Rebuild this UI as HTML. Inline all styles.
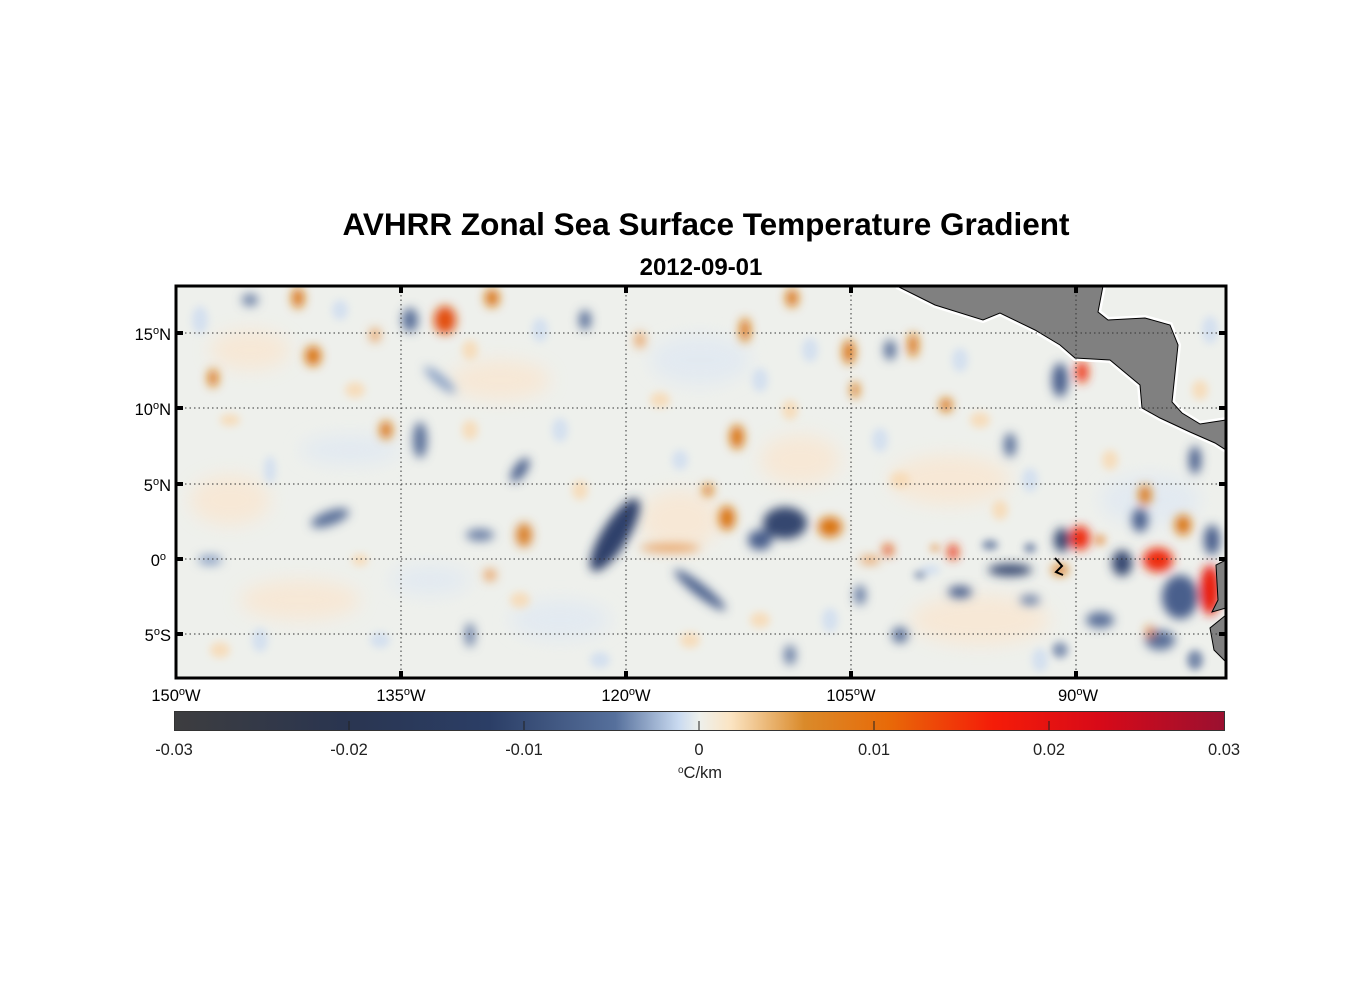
<!DOCTYPE html>
<html><head><meta charset="utf-8"><style>
body{margin:0;background:#fff;}
svg text{font-family:"Liberation Sans",sans-serif;}
</style></head><body>
<svg width="1356" height="1000" viewBox="0 0 1356 1000" xmlns="http://www.w3.org/2000/svg">
<defs>
<clipPath id="c"><rect x="176" y="286" width="1050" height="392"/></clipPath>
<filter id="b" x="-50%" y="-50%" width="200%" height="200%"><feGaussianBlur stdDeviation="5"/></filter>
<filter id="b1" x="-50%" y="-50%" width="200%" height="200%"><feGaussianBlur stdDeviation="4"/></filter>
<filter id="b2" x="-50%" y="-50%" width="200%" height="200%"><feGaussianBlur stdDeviation="9"/></filter>
<linearGradient id="cb" x1="0" x2="1">
<stop offset="0" stop-color="#3d3d3f"/>
<stop offset="0.16" stop-color="#2a3550"/>
<stop offset="0.3" stop-color="#2b3e66"/>
<stop offset="0.42" stop-color="#56709c"/>
<stop offset="0.48" stop-color="#c9daf0"/>
<stop offset="0.5" stop-color="#eef0ec"/>
<stop offset="0.53" stop-color="#fbe4c2"/>
<stop offset="0.6" stop-color="#da8a2a"/>
<stop offset="0.68" stop-color="#e86a08"/>
<stop offset="0.78" stop-color="#f51c08"/>
<stop offset="0.88" stop-color="#d80a18"/>
<stop offset="1" stop-color="#9a1030"/>
</linearGradient>
</defs>
<text x="706" y="235" font-size="31.5" font-weight="bold" text-anchor="middle">AVHRR Zonal Sea Surface Temperature Gradient</text>
<text x="701" y="275" font-size="24" font-weight="bold" text-anchor="middle">2012-09-01</text>
<g clip-path="url(#c)">
<rect x="176" y="286" width="1050" height="392" fill="#eef0ec"/>
<g filter="url(#b2)" opacity="0.6">
<ellipse cx="250" cy="350" rx="40" ry="20" fill="#fde3c8"/>
<ellipse cx="350" cy="450" rx="50" ry="15" fill="#dbe6f4"/>
<ellipse cx="300" cy="600" rx="60" ry="20" fill="#fde3c8"/>
<ellipse cx="500" cy="380" rx="50" ry="20" fill="#fde3c8"/>
<ellipse cx="560" cy="620" rx="50" ry="20" fill="#dbe6f4"/>
<ellipse cx="700" cy="360" rx="50" ry="25" fill="#dbe6f4"/>
<ellipse cx="950" cy="480" rx="60" ry="25" fill="#fde3c8"/>
<ellipse cx="980" cy="620" rx="70" ry="25" fill="#fde3c8"/>
<ellipse cx="1150" cy="500" rx="50" ry="25" fill="#dbe6f4"/>
<ellipse cx="800" cy="460" rx="40" ry="25" fill="#fde3c8"/>
<ellipse cx="230" cy="500" rx="40" ry="25" fill="#fde3c8"/>
<ellipse cx="680" cy="520" rx="40" ry="30" fill="#fde3c8"/>
<ellipse cx="430" cy="580" rx="40" ry="15" fill="#dbe6f4"/>
</g>
<g filter="url(#b1)" opacity="0.8">
<ellipse cx="200" cy="320" rx="8" ry="14" fill="#cddcf0"/>
<ellipse cx="230" cy="420" rx="10" ry="6" fill="#f8d8b0"/>
<ellipse cx="270" cy="470" rx="6" ry="14" fill="#cddcf0"/>
<ellipse cx="220" cy="650" rx="10" ry="8" fill="#f8d8b0"/>
<ellipse cx="260" cy="640" rx="8" ry="12" fill="#cddcf0"/>
<ellipse cx="340" cy="310" rx="8" ry="10" fill="#cddcf0"/>
<ellipse cx="355" cy="390" rx="10" ry="8" fill="#f8d8b0"/>
<ellipse cx="360" cy="560" rx="8" ry="6" fill="#f8d8b0"/>
<ellipse cx="380" cy="640" rx="10" ry="8" fill="#cddcf0"/>
<ellipse cx="470" cy="350" rx="8" ry="10" fill="#f8d8b0"/>
<ellipse cx="540" cy="330" rx="8" ry="12" fill="#cddcf0"/>
<ellipse cx="470" cy="430" rx="8" ry="10" fill="#f8d8b0"/>
<ellipse cx="560" cy="430" rx="8" ry="12" fill="#cddcf0"/>
<ellipse cx="580" cy="490" rx="8" ry="10" fill="#f8d8b0"/>
<ellipse cx="520" cy="600" rx="10" ry="8" fill="#f8d8b0"/>
<ellipse cx="600" cy="660" rx="10" ry="8" fill="#cddcf0"/>
<ellipse cx="660" cy="400" rx="10" ry="8" fill="#f8d8b0"/>
<ellipse cx="680" cy="460" rx="8" ry="10" fill="#cddcf0"/>
<ellipse cx="690" cy="640" rx="10" ry="8" fill="#f8d8b0"/>
<ellipse cx="760" cy="380" rx="8" ry="12" fill="#cddcf0"/>
<ellipse cx="790" cy="410" rx="8" ry="10" fill="#f8d8b0"/>
<ellipse cx="810" cy="350" rx="8" ry="12" fill="#cddcf0"/>
<ellipse cx="760" cy="620" rx="10" ry="8" fill="#f8d8b0"/>
<ellipse cx="830" cy="620" rx="8" ry="12" fill="#cddcf0"/>
<ellipse cx="880" cy="440" rx="8" ry="12" fill="#cddcf0"/>
<ellipse cx="900" cy="480" rx="10" ry="8" fill="#f8d8b0"/>
<ellipse cx="960" cy="360" rx="8" ry="12" fill="#cddcf0"/>
<ellipse cx="980" cy="420" rx="10" ry="8" fill="#f8d8b0"/>
<ellipse cx="1030" cy="480" rx="8" ry="12" fill="#cddcf0"/>
<ellipse cx="1000" cy="510" rx="8" ry="10" fill="#f8d8b0"/>
<ellipse cx="1040" cy="660" rx="8" ry="12" fill="#cddcf0"/>
<ellipse cx="1110" cy="460" rx="8" ry="10" fill="#f8d8b0"/>
<ellipse cx="1210" cy="330" rx="8" ry="14" fill="#cddcf0"/>
<ellipse cx="1200" cy="390" rx="8" ry="10" fill="#f8d8b0"/>
<ellipse cx="930" cy="570" rx="10" ry="5" fill="#cddcf0"/>
<ellipse cx="990" cy="545" rx="8" ry="5" fill="#5a6f99"/>
<ellipse cx="920" cy="575" rx="6" ry="4" fill="#6c80a6"/>
<ellipse cx="935" cy="548" rx="5" ry="4" fill="#e8a060"/>
<ellipse cx="1030" cy="548" rx="6" ry="5" fill="#5a6f99"/>
<ellipse cx="1100" cy="540" rx="6" ry="6" fill="#e8a060"/>
<ellipse cx="1195" cy="660" rx="8" ry="10" fill="#5a6f99"/>
<ellipse cx="1060" cy="650" rx="8" ry="8" fill="#6c80a6"/>
</g>
<g filter="url(#b)">
<ellipse cx="615" cy="535" rx="13" ry="42" transform="rotate(32 615 535)" fill="#2f416a"/>
<ellipse cx="785" cy="523" rx="22" ry="16" fill="#34476f"/>
<ellipse cx="760" cy="540" rx="12" ry="10" fill="#4a5f8c"/>
<ellipse cx="700" cy="590" rx="32" ry="6" transform="rotate(38 700 590)" fill="#4a5f8c"/>
<ellipse cx="420" cy="440" rx="7" ry="18" fill="#5a6f99"/>
<ellipse cx="330" cy="518" rx="20" ry="7" transform="rotate(-20 330 518)" fill="#5a6f99"/>
<ellipse cx="1060" cy="380" rx="8" ry="17" fill="#4a5f8c"/>
<ellipse cx="1010" cy="570" rx="22" ry="6" fill="#34476f"/>
<ellipse cx="1062" cy="540" rx="8" ry="12" fill="#34476f"/>
<ellipse cx="1122" cy="563" rx="10" ry="13" fill="#34476f"/>
<ellipse cx="1180" cy="597" rx="18" ry="22" fill="#4a5f8c"/>
<ellipse cx="1100" cy="620" rx="14" ry="8" fill="#5a6f99"/>
<ellipse cx="1160" cy="640" rx="15" ry="10" fill="#5a6f99"/>
<ellipse cx="1140" cy="520" rx="8" ry="12" fill="#4a5f8c"/>
<ellipse cx="890" cy="350" rx="6" ry="10" fill="#5a6f99"/>
<ellipse cx="1195" cy="460" rx="6" ry="14" fill="#4a5f8c"/>
<ellipse cx="1010" cy="445" rx="6" ry="12" fill="#5a6f99"/>
<ellipse cx="480" cy="535" rx="14" ry="6" fill="#6c80a6"/>
<ellipse cx="960" cy="592" rx="12" ry="6" fill="#4a5f8c"/>
<ellipse cx="900" cy="635" rx="8" ry="8" fill="#5a6f99"/>
<ellipse cx="520" cy="470" rx="6" ry="14" transform="rotate(35 520 470)" fill="#4a5f8c"/>
<ellipse cx="410" cy="320" rx="8" ry="12" fill="#5a6f99"/>
<ellipse cx="585" cy="320" rx="6" ry="10" fill="#5a6f99"/>
<ellipse cx="790" cy="655" rx="6" ry="10" fill="#6c80a6"/>
<ellipse cx="470" cy="635" rx="5" ry="12" fill="#6c80a6"/>
<ellipse cx="440" cy="380" rx="20" ry="5" transform="rotate(40 440 380)" fill="#8aa0c4"/>
<ellipse cx="250" cy="300" rx="8" ry="6" fill="#6c80a6"/>
<ellipse cx="210" cy="560" rx="12" ry="5" fill="#8aa0c4"/>
<ellipse cx="860" cy="595" rx="6" ry="10" fill="#6c80a6"/>
<ellipse cx="1212" cy="540" rx="8" ry="15" fill="#4a5f8c"/>
<ellipse cx="1030" cy="600" rx="10" ry="5" fill="#6c80a6"/>
<ellipse cx="445" cy="320" rx="11" ry="14" fill="#e24e10"/>
<ellipse cx="298" cy="298" rx="6" ry="10" fill="#d9720f"/>
<ellipse cx="492" cy="298" rx="7" ry="9" fill="#d9720f"/>
<ellipse cx="792" cy="298" rx="6" ry="9" fill="#d9720f"/>
<ellipse cx="745" cy="330" rx="5" ry="12" fill="#d9720f"/>
<ellipse cx="313" cy="356" rx="8" ry="10" fill="#d9720f"/>
<ellipse cx="386" cy="430" rx="6" ry="9" fill="#d9720f"/>
<ellipse cx="737" cy="437" rx="7" ry="12" fill="#d9720f"/>
<ellipse cx="849" cy="352" rx="6" ry="12" fill="#d9720f"/>
<ellipse cx="855" cy="390" rx="4" ry="8" fill="#d9720f"/>
<ellipse cx="946" cy="405" rx="6" ry="7" fill="#d9720f"/>
<ellipse cx="913" cy="345" rx="5" ry="12" fill="#d9720f"/>
<ellipse cx="1082" cy="372" rx="6" ry="11" fill="#ee3008"/>
<ellipse cx="1080" cy="538" rx="10" ry="12" fill="#ee2a08"/>
<ellipse cx="1158" cy="560" rx="15" ry="12" fill="#ee2a08"/>
<ellipse cx="1210" cy="590" rx="10" ry="25" fill="#e81a10"/>
<ellipse cx="727" cy="518" rx="8" ry="12" fill="#d9720f"/>
<ellipse cx="830" cy="527" rx="12" ry="10" fill="#d9720f"/>
<ellipse cx="524" cy="535" rx="8" ry="12" fill="#d9802a"/>
<ellipse cx="953" cy="552" rx="5" ry="8" fill="#ea3510"/>
<ellipse cx="888" cy="550" rx="5" ry="6" fill="#e24e10"/>
<ellipse cx="213" cy="378" rx="5" ry="9" fill="#d9720f"/>
<ellipse cx="490" cy="575" rx="6" ry="6" fill="#e8a060"/>
<ellipse cx="708" cy="490" rx="5" ry="6" fill="#d9720f"/>
<ellipse cx="1145" cy="495" rx="6" ry="10" fill="#d9720f"/>
<ellipse cx="1183" cy="525" rx="8" ry="10" fill="#d9720f"/>
<ellipse cx="1060" cy="570" rx="8" ry="5" fill="#d9720f"/>
<ellipse cx="1150" cy="632" rx="4" ry="6" fill="#d9720f"/>
<ellipse cx="870" cy="560" rx="10" ry="4" fill="#e8a060"/>
<ellipse cx="670" cy="548" rx="30" ry="4" fill="#e8a060"/>
<ellipse cx="640" cy="340" rx="5" ry="8" fill="#e8a060"/>
<ellipse cx="375" cy="335" rx="5" ry="7" fill="#e8a060"/>
</g>
<path d="M897,286 L935,305 L983,320 L1000,313 L1035,330 L1060,345 L1075,358 L1110,360 L1140,385 L1142,408 L1160,418 L1190,432 L1215,443 L1226,450 L1226,420 L1200,424 L1182,413 L1172,402 L1178,345 L1170,325 L1145,318 L1108,320 L1098,312 L1103,286 Z" fill="#808080" stroke="#fff" stroke-width="6"/>
<path d="M897,286 L935,305 L983,320 L1000,313 L1035,330 L1060,345 L1075,358 L1110,360 L1140,385 L1142,408 L1160,418 L1190,432 L1215,443 L1226,450 L1226,420 L1200,424 L1182,413 L1172,402 L1178,345 L1170,325 L1145,318 L1108,320 L1098,312 L1103,286 Z" fill="#808080" stroke="#000" stroke-width="1"/>
<path d="M1226,560 L1216,565 L1218,600 L1212,612 L1226,608 Z M1226,615 L1210,628 L1214,650 L1226,662 Z" fill="#808080" stroke="#000" stroke-width="1"/>
<path d="M1055,558 L1062,566 L1056,572 L1063,575" fill="none" stroke="#000" stroke-width="2"/>
<g stroke="#333" stroke-width="1" stroke-dasharray="1.5,3" fill="none">
<line x1="176" y1="333" x2="1226" y2="333"/><line x1="176" y1="408" x2="1226" y2="408"/>
<line x1="176" y1="484" x2="1226" y2="484"/><line x1="176" y1="559" x2="1226" y2="559"/>
<line x1="176" y1="634" x2="1226" y2="634"/>
<line x1="401" y1="286" x2="401" y2="678"/><line x1="626" y1="286" x2="626" y2="678"/>
<line x1="851" y1="286" x2="851" y2="678"/><line x1="1076" y1="286" x2="1076" y2="678"/>
</g>
</g>
<rect x="176" y="286" width="1050" height="392" fill="none" stroke="#000" stroke-width="3"/>
<g stroke="#000" stroke-width="4">
<line x1="401" y1="286" x2="401" y2="293"/><line x1="626" y1="286" x2="626" y2="293"/><line x1="851" y1="286" x2="851" y2="293"/><line x1="1076" y1="286" x2="1076" y2="293"/>
<line x1="401" y1="678" x2="401" y2="671"/><line x1="626" y1="678" x2="626" y2="671"/><line x1="851" y1="678" x2="851" y2="671"/><line x1="1076" y1="678" x2="1076" y2="671"/>
<line x1="176" y1="333" x2="183" y2="333"/><line x1="176" y1="408" x2="183" y2="408"/><line x1="176" y1="484" x2="183" y2="484"/><line x1="176" y1="559" x2="183" y2="559"/><line x1="176" y1="634" x2="183" y2="634"/>
<line x1="1226" y1="333" x2="1219" y2="333"/><line x1="1226" y1="408" x2="1219" y2="408"/><line x1="1226" y1="484" x2="1219" y2="484"/><line x1="1226" y1="559" x2="1219" y2="559"/><line x1="1226" y1="634" x2="1219" y2="634"/>
</g>
<g font-size="16.5" text-anchor="end">
<text x="171" y="340">15<tspan dy="-6" font-size="11">o</tspan><tspan dy="6">N</tspan></text>
<text x="171" y="415">10<tspan dy="-6" font-size="11">o</tspan><tspan dy="6">N</tspan></text>
<text x="171" y="491">5<tspan dy="-6" font-size="11">o</tspan><tspan dy="6">N</tspan></text>
<text x="166" y="566">0<tspan dy="-6" font-size="11">o</tspan></text>
<text x="171" y="641">5<tspan dy="-6" font-size="11">o</tspan><tspan dy="6">S</tspan></text>
</g>
<g font-size="16.5" text-anchor="middle">
<text x="176" y="701">150<tspan dy="-6" font-size="11">o</tspan><tspan dy="6">W</tspan></text>
<text x="401" y="701">135<tspan dy="-6" font-size="11">o</tspan><tspan dy="6">W</tspan></text>
<text x="626" y="701">120<tspan dy="-6" font-size="11">o</tspan><tspan dy="6">W</tspan></text>
<text x="851" y="701">105<tspan dy="-6" font-size="11">o</tspan><tspan dy="6">W</tspan></text>
<text x="1078" y="701">90<tspan dy="-6" font-size="11">o</tspan><tspan dy="6">W</tspan></text>
</g>
<rect x="174.5" y="711.5" width="1050" height="19" fill="url(#cb)" stroke="#333" stroke-width="1"/>
<g stroke="#222" stroke-width="1">
<line x1="349" y1="730" x2="349" y2="721"/><line x1="524" y1="730" x2="524" y2="721"/><line x1="699" y1="730" x2="699" y2="721"/><line x1="874" y1="730" x2="874" y2="721"/><line x1="1049" y1="730" x2="1049" y2="721"/>
</g>
<g font-size="16.5" text-anchor="middle" fill="#222">
<text x="174" y="755">-0.03</text><text x="349" y="755">-0.02</text><text x="524" y="755">-0.01</text>
<text x="699" y="755">0</text><text x="874" y="755">0.01</text><text x="1049" y="755">0.02</text><text x="1224" y="755">0.03</text>
<text x="700" y="778"><tspan dy="-5" font-size="10">o</tspan><tspan dy="5">C/km</tspan></text>
</g>
</svg>
</body></html>
